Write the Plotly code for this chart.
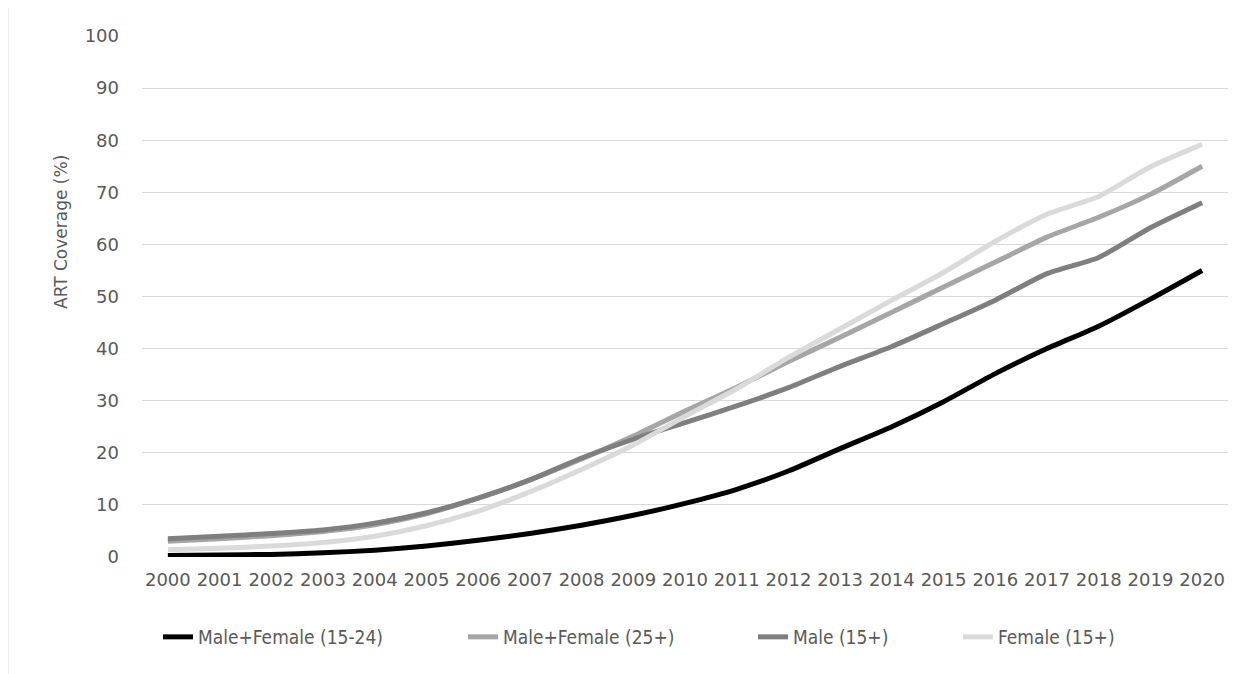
import plotly.graph_objects as go

years = [str(y) for y in range(2000, 2021)]
mf_15_24 = [0.3, 0.4, 0.5, 0.8, 1.3, 2.1, 3.2, 4.5, 6.1, 8.0, 10.3, 13.0, 16.5, 20.8, 25.0, 29.8, 35.2, 40.0, 44.3, 49.5, 55.0]
mf_25p = [3.0, 3.5, 4.1, 4.9, 6.2, 8.3, 11.3, 14.8, 18.8, 23.2, 28.0, 32.6, 37.5, 42.2, 47.0, 51.8, 56.6, 61.4, 65.2, 69.6, 75.0]
male_15p = [3.5, 4.0, 4.5, 5.2, 6.5, 8.5, 11.3, 14.8, 19.0, 22.6, 25.8, 29.0, 32.5, 36.6, 40.4, 44.8, 49.3, 54.4, 57.5, 63.2, 68.0]
female_15p = [1.4, 1.7, 2.1, 2.8, 4.0, 6.0, 8.8, 12.5, 16.8, 21.5, 27.0, 32.3, 38.3, 43.8, 49.3, 54.6, 60.6, 65.8, 69.2, 74.9, 79.2]

series = [
    ("Male+Female (15-24)", mf_15_24, "#000000"),
    ("Male+Female (25+)", mf_25p, "#a6a6a6"),
    ("Male (15+)", male_15p, "#7f7f7f"),
    ("Female (15+)", female_15p, "#dadada"),
]

# page has an 8px body margin; layout is offset to compensate
OFF = 8
W, H = 1257 - OFF, 674 - OFF
PL, PR, PT, PB = 142, 1228, 36, 557   # plot area in page pixels
L, T = PL - OFF, PT - OFF
pw, ph = PR - PL, PB - PT
R, B = W - L - pw, H - T - ph


def px_x(p):
    return (p - PL) / pw


def px_y(p):
    return (PB - p) / ph


legend_text_x = [202, 507, 797, 1002]
legend_names = ["legend", "legend2", "legend3", "legend4"]

fig = go.Figure()
for (name, vals, color), lg in zip(series, legend_names):
    fig.add_trace(go.Scatter(
        x=years, y=vals, name=name, mode="lines", legend=lg,
        line=dict(color=color, width=5, shape="spline", smoothing=0.6),
    ))

legend_font = dict(family="DejaVu Sans Condensed", size=19, color="#595959")
legend_layout = {}
for lg, tx in zip(legend_names, legend_text_x):
    legend_layout[lg] = dict(
        orientation="h", x=px_x(tx - 44), xanchor="left",
        y=px_y(637), yanchor="middle", font=legend_font,
        bgcolor="rgba(0,0,0,0)",
    )

fig.update_layout(
    width=W, height=H,
    margin=dict(l=L, r=R, t=T, b=B),
    paper_bgcolor="white", plot_bgcolor="white",
    font=dict(family="DejaVu Sans", size=18, color="#595959"),
    showlegend=True,
    xaxis=dict(
        type="category", range=[-0.5, 20.5], showgrid=False, zeroline=False,
        showline=False, ticks="", ticklabelstandoff=10,
        tickfont=dict(size=18, color="#595959"),
    ),
    yaxis=dict(
        range=[0, 100], dtick=10, tick0=0, showgrid=True, gridcolor="#d9d9d9",
        gridwidth=1, zeroline=False, showline=False, ticks="",
        ticklabelstandoff=22,
        tickfont=dict(size=18, color="#595959"),
    ),
    annotations=[dict(
        text="ART Coverage (%)", textangle=-90, showarrow=False,
        xref="paper", yref="paper", x=px_x(61), y=px_y(232),
        xanchor="center", yanchor="middle",
        font=dict(family="DejaVu Sans", size=17, color="#595959"),
    )],
    shapes=[dict(
        type="rect", xref="paper", yref="paper",
        x0=px_x(8), x1=px_x(1252), y0=px_y(690), y1=px_y(6),
        line=dict(color="#d9d9d9", width=1), fillcolor="rgba(0,0,0,0)",
        layer="below",
    )],
    **legend_layout,
)

fig.write_html("out.html")
